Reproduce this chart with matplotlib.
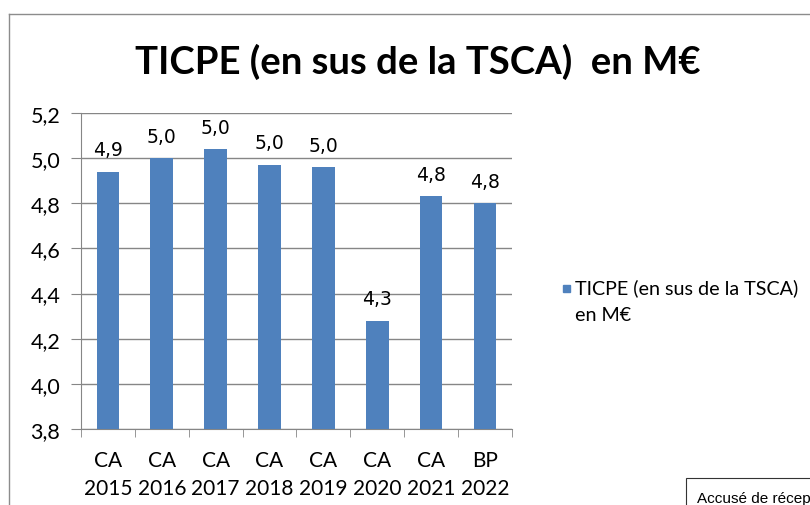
import matplotlib.pyplot as plt
from matplotlib.patches import Rectangle
from matplotlib.lines import Line2D

categories = ['CA\n2015', 'CA\n2016', 'CA\n2017', 'CA\n2018', 'CA\n2019', 'CA\n2020', 'CA\n2021', 'BP\n2022']
values = [4.94, 5.00, 5.04, 4.97, 4.96, 4.28, 4.83, 4.80]
yticks = [3.8, 4.0, 4.2, 4.4, 4.6, 4.8, 5.0, 5.2]
series_name = 'TICPE (en sus de la TSCA)\nen M€'
title = 'TICPE (en sus de la TSCA)  en M€'
stamp = 'Accusé de récep'

blue = '#4f81bd'
grey = '#868686'
font = ['Lato', 'DejaVu Sans']

fig = plt.figure(figsize=(8.1, 5.06), dpi=100)
ax = fig.add_axes([0.1, 0.150, 0.532, 0.625])

x = range(len(values))
ax.bar(x, values, width=0.42, color=blue, zorder=3)
for i, v in zip(x, values):
    ax.text(i, v + 0.055, f'{v:.1f}'.replace('.', ','), ha='center', va='bottom',
            fontsize=13.5, family='DejaVu Sans')

ax.set_xlim(-0.5, len(values) - 0.5)
ax.set_ylim(3.8, 5.2)
ax.set_yticks(yticks)
ax.set_yticklabels([f'{t:.1f}'.replace('.', ',') for t in yticks], family=font, fontsize=15.5)
ax.set_xticks(list(x))
ax.set_xticklabels(categories, family=font, fontsize=15, linespacing=1.5)
ax.set_xticks([i - 0.5 for i in range(len(values) + 1)], minor=True)
ax.tick_params(axis='x', which='major', length=0, pad=15)
ax.tick_params(axis='x', which='minor', length=6, color=grey, direction='out')
ax.tick_params(axis='y', length=7, color=grey, direction='out', pad=8)
ax.grid(axis='y', color=grey, linewidth=1, zorder=0)
for s in ['top', 'right']:
    ax.spines[s].set_visible(False)
for s in ['left', 'bottom']:
    ax.spines[s].set_color(grey)

fig.text(0.516, 0.877, title, ha='center', va='center', fontsize=27.5,
         fontweight='bold', family=font)

# legend
fig.patches.append(Rectangle((563 / 810, 1 - 293 / 506), 7 / 810, 7 / 506,
                             transform=fig.transFigure, color=blue))
fig.text(575 / 810, 1 - 279 / 506, series_name, ha='left', va='top', fontsize=14.2,
         family=font, linespacing=1.7)

# outer frame
fig.lines.append(Line2D([9 / 810, 1], [1 - 15 / 506] * 2, transform=fig.transFigure,
                        color='#8c8c8c', linewidth=1))
fig.lines.append(Line2D([9 / 810] * 2, [0, 1 - 15 / 506], transform=fig.transFigure,
                        color='#8c8c8c', linewidth=1))

# stamp box bottom right
fig.patches.append(Rectangle((686 / 810, -0.05), 0.3, 0.05 + 27 / 506,
                             transform=fig.transFigure, fill=False,
                             edgecolor='#333333', linewidth=0.8))
fig.text(697 / 810, 1 - 499 / 506, stamp, ha='left', va='center',
         fontsize=11, family='Liberation Sans')

fig.savefig('out.png', dpi=100)
